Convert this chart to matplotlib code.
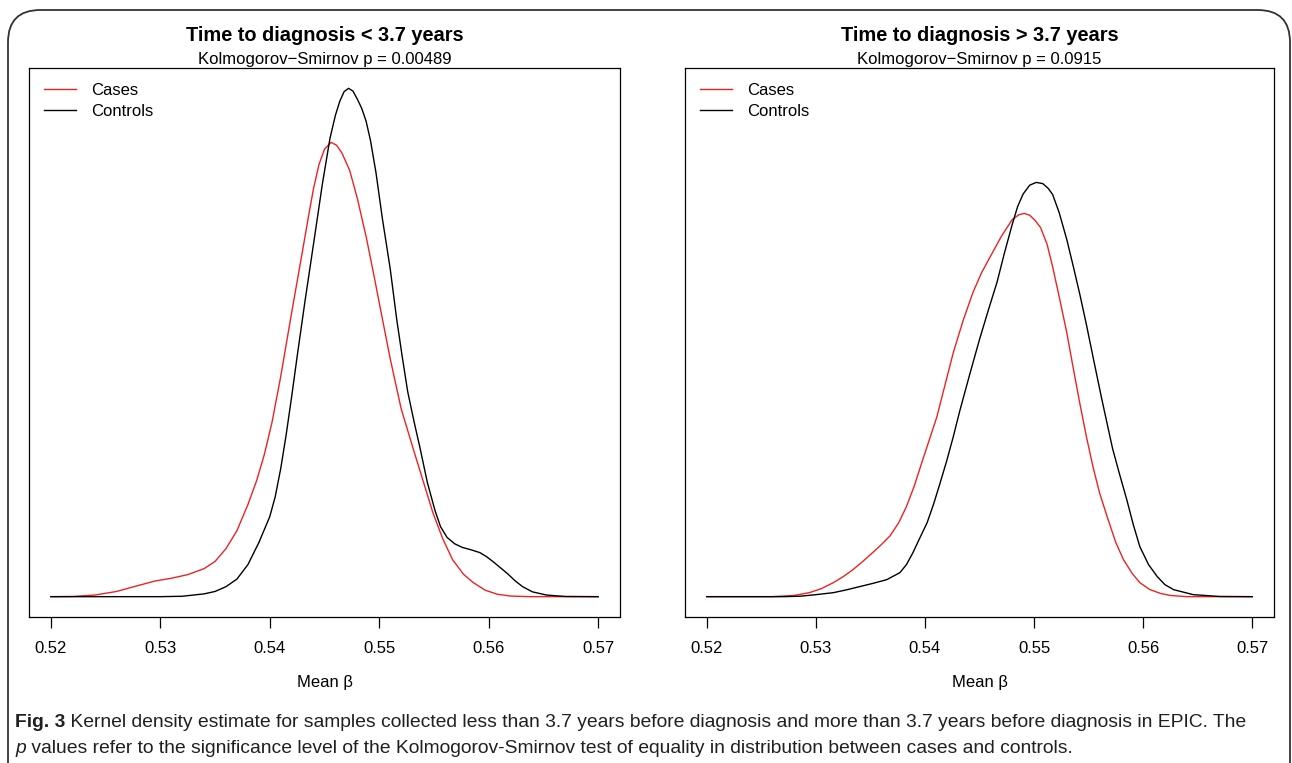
import matplotlib
matplotlib.use("Agg")
import matplotlib.pyplot as plt
from matplotlib.patches import FancyBboxPatch

plt.rcParams['font.family'] = ['Liberation Sans', 'DejaVu Sans']

# Mean beta grid points and density (left: < 3.7 years)
left_cases_x = [0.5200, 0.5220, 0.5240, 0.5260, 0.5280, 0.5295, 0.5310, 0.5325, 0.5340, 0.5350,
                0.5360, 0.5370, 0.5380, 0.5388, 0.5395, 0.5402, 0.5410, 0.5420, 0.5430, 0.5436,
                0.5440, 0.5445, 0.5450, 0.5456, 0.5461, 0.5466, 0.5473, 0.5480, 0.5488, 0.5495,
                0.5503, 0.5510, 0.5520, 0.5531, 0.5540, 0.5549, 0.5558, 0.5567, 0.5577, 0.5586,
                0.5597, 0.5608, 0.5620, 0.5638, 0.5700]
left_cases_y = [0.0, 0.05, 0.4, 1.3, 2.8, 3.9, 4.6, 5.5, 7.0, 8.8,
                12.0, 16.5, 23.0, 29.0, 35.5, 43.5, 55.0, 71.0, 86.5, 96.0,
                102.0, 108.0, 111.8, 113.5, 112.8, 110.8, 106.5, 99.5, 90.0, 80.5,
                69.25, 59.5, 47.0, 37.0, 29.0, 21.0, 14.5, 9.25, 5.6, 3.5,
                1.6, 0.6, 0.15, 0.0, 0.0]

left_ctrl_x = [0.5200, 0.5300, 0.5320, 0.5340, 0.5350, 0.5360, 0.5370, 0.5380, 0.5390, 0.5400,
               0.5405, 0.5410, 0.5415, 0.5420, 0.5425, 0.5432, 0.5441, 0.5448, 0.5455, 0.5460,
               0.5464, 0.5468, 0.5472, 0.5476, 0.5480, 0.5484, 0.5488, 0.5492, 0.5497, 0.5503,
               0.5510, 0.5516, 0.5521, 0.5526, 0.5532, 0.5537, 0.5544, 0.5551, 0.5556, 0.5562,
               0.5569, 0.5576, 0.5584, 0.5592, 0.5598, 0.5604, 0.5610, 0.5617, 0.5624, 0.5631,
               0.5640, 0.5653, 0.5670, 0.5700]
left_ctrl_y = [0.0, 0.0, 0.1, 0.7, 1.3, 2.5, 4.4, 8.0, 13.5, 20.0,
               25.0, 32.0, 40.5, 50.0, 60.0, 73.5, 90.0, 103.0, 114.5, 120.3,
               123.8, 126.2, 127.0, 126.3, 124.3, 122.0, 118.8, 114.0, 106.0, 94.25,
               82.0, 69.25, 60.0, 51.25, 43.5, 37.5, 28.5, 21.5, 17.5, 14.8,
               13.2, 12.3, 11.7, 11.0, 10.0, 8.75, 7.4, 5.8, 4.0, 2.5,
               1.2, 0.4, 0.05, 0.0]

# right: > 3.7 years
right_cases_x = [0.5200, 0.5260, 0.5280, 0.5294, 0.5305, 0.5316, 0.5325, 0.5334, 0.5343, 0.5352,
                 0.5360, 0.5368, 0.5376, 0.5383, 0.5390, 0.5398, 0.5405, 0.5411, 0.5418, 0.5426,
                 0.5435, 0.5444, 0.5452, 0.5460, 0.5470, 0.5480, 0.5486, 0.5491, 0.5496, 0.5501,
                 0.5506, 0.5512, 0.5517, 0.5523, 0.5530, 0.5536, 0.5542, 0.5548, 0.5554, 0.5560,
                 0.5567, 0.5575, 0.5582, 0.5590, 0.5597, 0.5606, 0.5616, 0.5625, 0.5640, 0.5700]
right_cases_y = [0.0, 0.0, 0.3, 1.0, 2.0, 3.5, 5.0, 6.75, 8.8, 11.0,
                 13.0, 15.2, 18.5, 22.5, 27.5, 34.25, 40.0, 45.0, 52.5, 61.0,
                 69.0, 76.0, 81.0, 85.0, 90.0, 94.2, 95.4, 95.75, 95.3, 94.0,
                 92.2, 88.0, 82.5, 75.0, 66.0, 57.0, 48.25, 40.0, 32.5, 26.0,
                 20.0, 13.5, 9.25, 5.8, 3.5, 1.8, 0.8, 0.3, 0.0, 0.0]

right_ctrl_x = [0.5200, 0.5270, 0.5285, 0.5300, 0.5316, 0.5328, 0.5340, 0.5352, 0.5365, 0.5377,
                0.5383, 0.5389, 0.5395, 0.5402, 0.5408, 0.5414, 0.5420, 0.5426, 0.5432, 0.5441,
                0.5450, 0.5458, 0.5466, 0.5473, 0.5480, 0.5485, 0.5490, 0.5496, 0.5502, 0.5508,
                0.5513, 0.5517, 0.5523, 0.5530, 0.5536, 0.5542, 0.5548, 0.5554, 0.5562, 0.5572,
                0.5578, 0.5585, 0.5591, 0.5597, 0.5605, 0.5613, 0.5620, 0.5628, 0.5646, 0.5670,
                0.5700]
right_ctrl_y = [0.0, 0.0, 0.1, 0.5, 1.0, 1.7, 2.5, 3.3, 4.25, 6.0,
                8.0, 11.0, 14.5, 18.5, 23.2, 28.5, 34.0, 40.0, 46.5, 55.5,
                64.25, 71.5, 78.5, 86.0, 93.0, 97.5, 100.6, 102.8, 103.5, 103.2,
                102.0, 100.5, 96.0, 89.25, 82.5, 75.5, 68.0, 60.0, 49.5, 37.0,
                31.0, 24.25, 18.0, 12.5, 8.0, 5.0, 3.0, 1.75, 0.5, 0.05,
                0.0]

titles = ["Time to diagnosis < 3.7 years", "Time to diagnosis > 3.7 years"]
subtitles = ["Kolmogorov\u2212Smirnov p = 0.00489", "Kolmogorov\u2212Smirnov p = 0.0915"]
xticks = [0.52, 0.53, 0.54, 0.55, 0.56, 0.57]

fig = plt.figure(figsize=(12.92, 7.63), dpi=100)

# rounded frame around the figure
frame = FancyBboxPatch((8 / 1292, -0.05), 1282 / 1292, 1 - 10 / 763 + 0.05,
                       boxstyle="round,pad=0,rounding_size=0.025", transform=fig.transFigure,
                       fill=False, edgecolor='#333333', linewidth=1.3, mutation_aspect=1292 / 763)
fig.patches.append(frame)

ax_left = fig.add_axes([29 / 1292, 1 - 617 / 763, 591 / 1292, 549 / 763])
ax_right = fig.add_axes([685 / 1292, 1 - 617 / 763, 589 / 1292, 549 / 763])

ymax = max(left_ctrl_y)
panels = [(ax_left, left_cases_x, left_cases_y, left_ctrl_x, left_ctrl_y),
          (ax_right, right_cases_x, right_cases_y, right_ctrl_x, right_ctrl_y)]

for i, (ax, cx, cy, kx, ky) in enumerate(panels):
    ax.plot(cx, cy, color='#ee2222', lw=1.0, label='Cases', solid_joinstyle='round')
    ax.plot(kx, ky, color='black', lw=1.0, label='Controls', solid_joinstyle='round')
    ax.set_xlim(0.518, 0.572)
    ax.set_ylim(-0.04 * ymax, 1.04 * ymax)
    ax.set_yticks([])
    ax.set_xticks(xticks)
    ax.set_xticklabels([f"{t:.2f}" for t in xticks])
    ax.tick_params(axis='x', direction='out', length=8, width=0.9, pad=9, labelsize=12)
    ax.set_xlabel("Mean \u03b2", fontsize=12, labelpad=14)
    for s in ax.spines.values():
        s.set_linewidth(0.9)
    ax.annotate(subtitles[i], xy=(0.5, 1), xycoords='axes fraction', xytext=(0, 3),
                textcoords='offset points', ha='center', va='baseline', fontsize=12)
    ax.annotate(titles[i], xy=(0.5, 1), xycoords='axes fraction', xytext=(0, 19.5),
                textcoords='offset points', ha='center', va='baseline', fontsize=14.4,
                fontweight='bold')
    ax.legend(loc='upper left', bbox_to_anchor=(15 / 591, 1 - 15 / 549), frameon=False,
              fontsize=12, handlelength=1.9, handletextpad=0.95, labelspacing=0.37,
              borderpad=0, borderaxespad=0)

# caption
cap_font = ['Liberation Sans', 'DejaVu Sans']
cap_size = 13.9
fig_lbl = fig.text(15 / 1292, 1 - 727 / 763, "Fig. 3", fontsize=cap_size, fontweight='bold',
                   family=cap_font, color='#231f20', va='baseline')
p_lbl = fig.text(15 / 1292, 1 - 753 / 763, "p", fontsize=cap_size, style='italic',
                 family=cap_font, color='#231f20', va='baseline')

fig.canvas.draw()
r = fig.canvas.get_renderer()
bb = fig_lbl.get_window_extent(r)
fig.text(bb.x1 / 1292, 1 - 727 / 763, " Kernel density estimate for samples collected less than "
         "3.7 years before diagnosis and more than 3.7 years before diagnosis in EPIC. The",
         fontsize=cap_size, family=cap_font, color='#231f20', va='baseline')
pb = p_lbl.get_window_extent(r)
fig.text(pb.x1 / 1292, 1 - 753 / 763, " values refer to the significance level of the "
         "Kolmogorov-Smirnov test of equality in distribution between cases and controls.",
         fontsize=cap_size, family=cap_font, color='#231f20', va='baseline')

fig.savefig("out.png", dpi=100)
